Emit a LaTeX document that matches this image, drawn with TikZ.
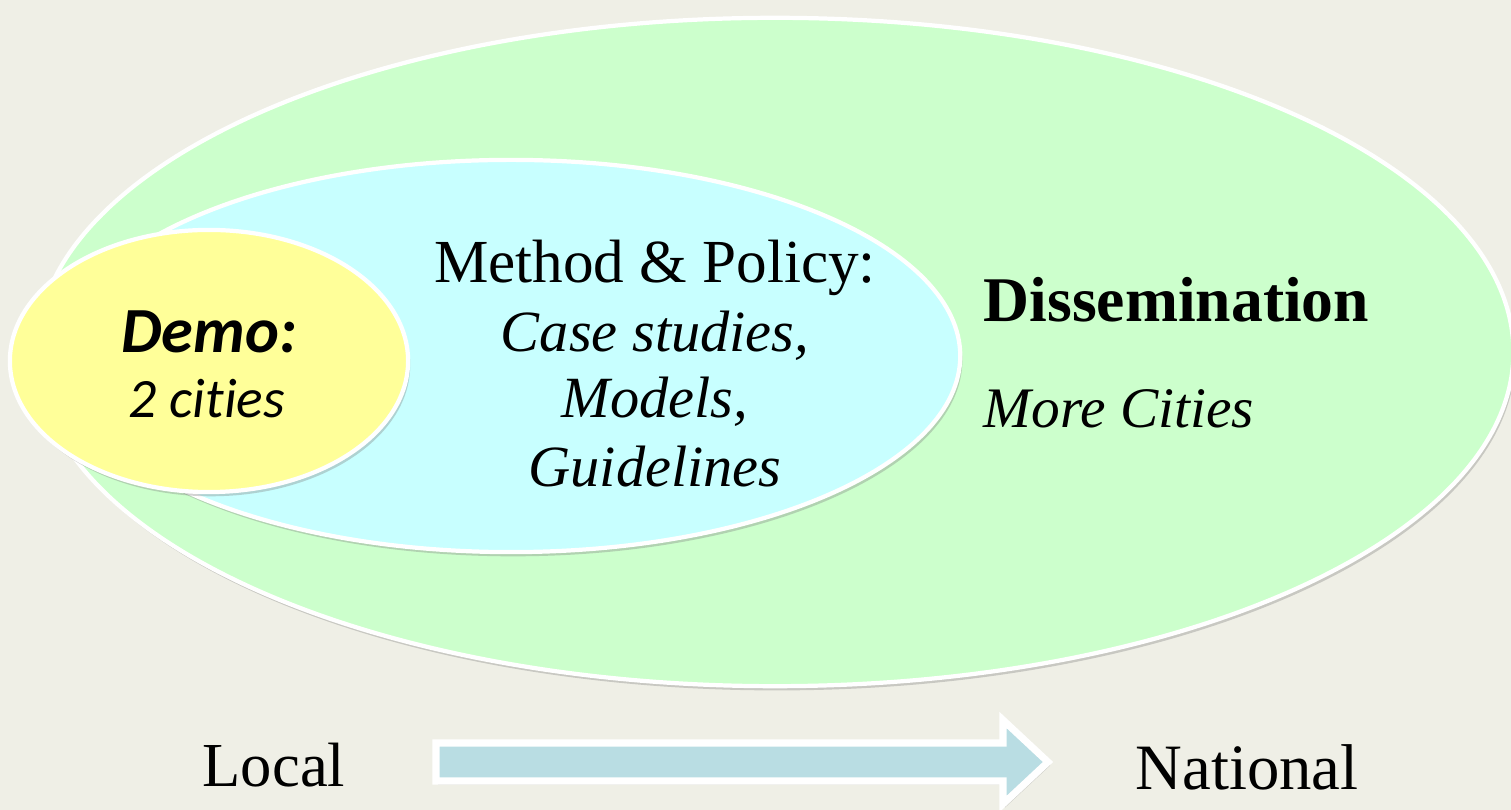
\documentclass[tikz,border=0pt]{standalone}
\usepackage{fontspec}
\setmainfont{Liberation Serif}
\newfontfamily\calibri[Ligatures=CommonOff]{Carlito}
\usetikzlibrary{shapes.geometric,shadows}
\definecolor{bgcol}{RGB}{239,239,230}
\definecolor{greenfill}{RGB}{204,255,204}
\definecolor{bluefill}{RGB}{200,255,255}
\definecolor{yellowfill}{RGB}{255,255,153}
\definecolor{arrowfill}{RGB}{185,221,227}
\tikzset{
  blob/.style={ellipse,draw=white,line width=1.2pt,
    drop shadow={shadow xshift=.6pt,shadow yshift=-1.2pt,opacity=.35}},
  lbl/.style={inner sep=0pt,anchor=base}
}
\begin{document}
\begin{tikzpicture}
    [x=0.01cm,y=-0.01cm,every node/.style={inner sep=0pt}]
    \fill[bgcol] (0,0) rectangle (1511,810);
    \useasboundingbox (0,0) rectangle (1511,810);
    \node[blob,fill=greenfill,minimum width=14.76cm,minimum height=6.68cm] (nat) at (775,352) {};
    \node[blob,fill=bluefill,minimum width=8.98cm,minimum height=3.92cm] (meth) at (511,356) {};
    \node[blob,fill=yellowfill,minimum width=3.98cm,minimum height=2.62cm] (demo) at (209,361) {};
    \node[lbl] (d1) at (209,353) {\fontsize{18.3}{20}\calibri\bfseries\itshape Demo:};
    \node[lbl] (d2) at (207,418) {\fontsize{15.8}{20}\calibri\itshape 2 cities};
    \node[lbl] (m1) at (655,283) {\fontsize{17.4}{20}\selectfont Method \& Policy:};
    \node[lbl] (m2) at (655,352) {\fontsize{16.6}{20}\selectfont\itshape Case studies,};
    \node[lbl] (m3) at (655,418) {\fontsize{16.6}{20}\selectfont\itshape Models,};
    \node[lbl] (m4) at (655,487) {\fontsize{16.6}{20}\selectfont\itshape Guidelines};
    \node[lbl,anchor=base west] (n1) at (983,322) {\fontsize{18.1}{20}\selectfont\bfseries Dissemination};
    \node[lbl,anchor=base west] (n2) at (983,428) {\fontsize{16.3}{20}\selectfont\itshape More Cities};
    \node[lbl,anchor=base west] (loc) at (202,787) {\fontsize{17.8}{20}\selectfont Local};
    \node[lbl,anchor=base west] (nation) at (1135,790) {\fontsize{18.4}{20}\selectfont National};
    \draw[fill=arrowfill,draw=white,line width=2pt,line join=miter,
      drop shadow={shadow xshift=.6pt,shadow yshift=-1pt,opacity=.3}]
      (436,743) -- (1003,743) -- (1003,720) -- (1048,762) -- (1003,804)
      -- (1003,781) -- (436,781) -- cycle;
\end{tikzpicture}
\end{document}
